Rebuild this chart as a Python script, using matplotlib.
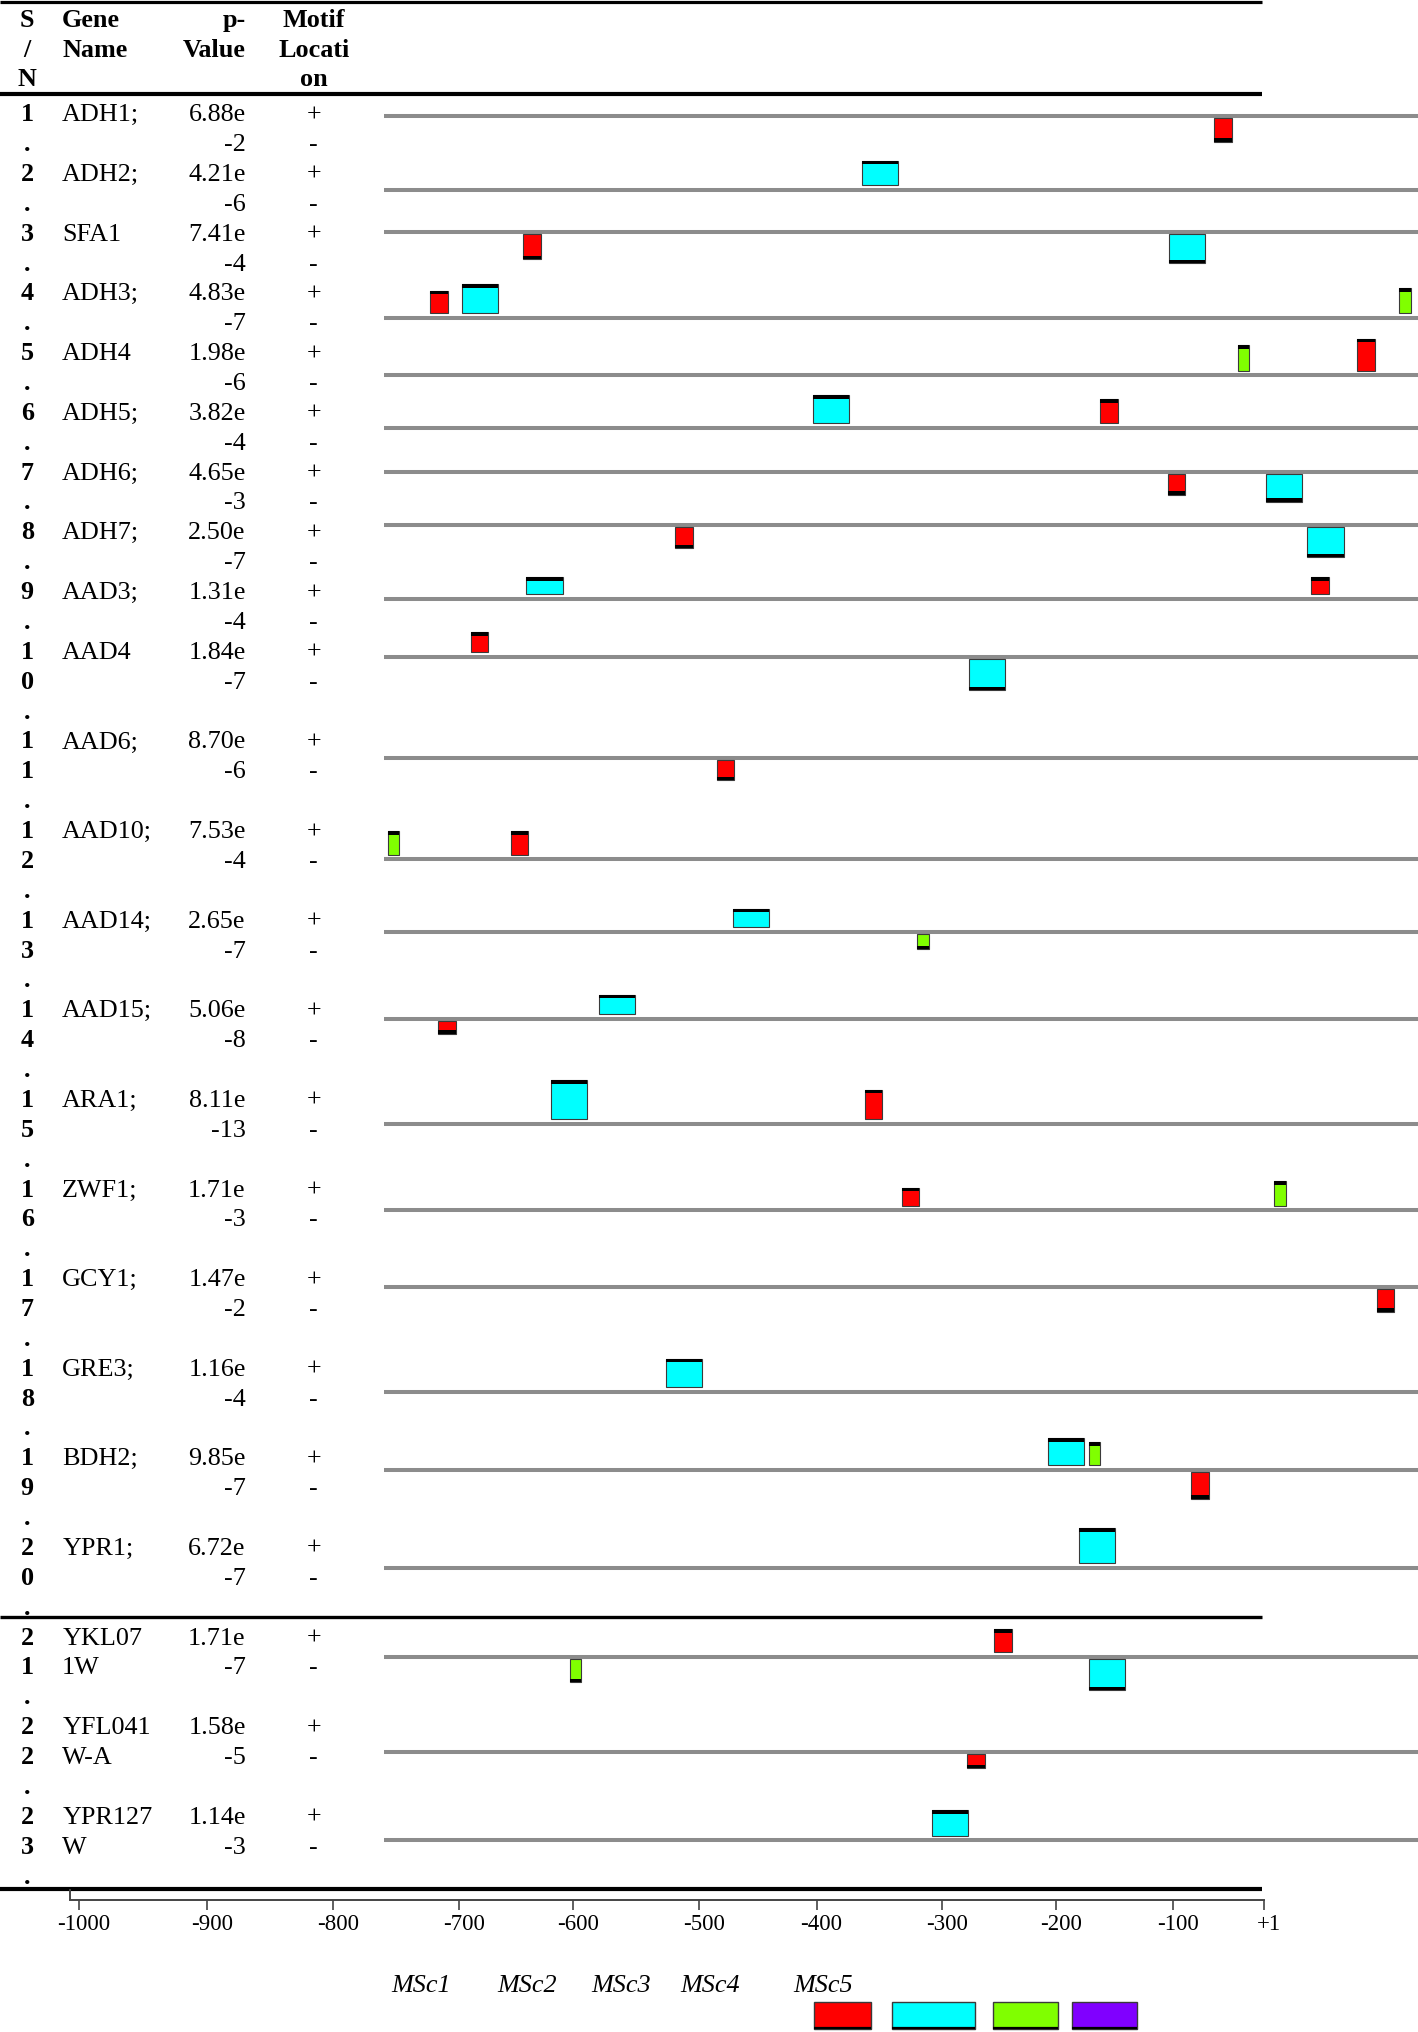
import matplotlib

matplotlib.use("Agg")
import matplotlib.pyplot as plt
from matplotlib.transforms import ScaledTranslation

plt.rcParams["font.family"] = ["Liberation Serif", "DejaVu Serif"]

# layout grid: the reference drawn at 1094 x 1568 units, y pointing down
W, H = 1094, 1568

# ---- table data ---------------------------------------------------------
GENE_NAMES = [
    "ADH1;", "ADH2;", "SFA1", "ADH3;", "ADH4", "ADH5;", "ADH6;", "ADH7;",
    "AAD3;", "AAD4", "AAD6;", "AAD10;", "AAD14;", "AAD15;", "ARA1;", "ZWF1;",
    "GCY1;", "GRE3;", "BDH2;", "YPR1;", "YKL07\n1W", "YFL041\nW-A", "YPR127\nW",
]
P_MANT = [6.88, 4.21, 7.41, 4.83, 1.98, 3.82, 4.65, 2.50, 1.31, 1.84, 8.70, 7.53,
          2.65, 5.06, 8.11, 1.71, 1.47, 1.16, 9.85, 6.72, 1.71, 1.58, 1.14]
P_EXP = [-2, -6, -4, -7, -6, -4, -3, -7, -4, -7, -6, -4,
         -7, -8, -13, -3, -2, -4, -7, -7, -7, -5, -3]

# ---- motif hits (position in bp upstream of +1, strand, score height) ----
MOTIF_COLORS = ["#FF0000", "#00FFFF", "#80FF00", "#8000FF"]
MOTIF_LEN = [17, 35, 11]  # bp, red / cyan / green
HIT_GENE = [0, 1, 2, 2, 3, 3, 3, 4, 4, 5, 5, 6, 6, 7, 7, 8, 8, 9, 9, 10,
            11, 11, 12, 12, 13, 13, 14, 14, 15, 15, 16, 17, 18, 18, 18, 19,
            20, 20, 20, 21, 22]
HIT_MOTIF = [0, 1, 0, 1, 0, 1, 2, 2, 0, 1, 0, 0, 1, 0, 1, 1, 0, 0, 1, 0,
             2, 0, 1, 2, 1, 0, 1, 0, 0, 2, 0, 1, 1, 2, 0, 1,
             0, 2, 1, 0, 1]
HIT_START = [-197, -538, -865, -241, -955, -924, -18, -174, -59, -585, -307,
             -242, -147, -718, -107, -862, -103, -916, -434, -678,
             -996, -877, -662, -484, -792, -947, -838, -535, -499, -139, -40,
             -727, -358, -318, -219, -328, -410, -820, -318, -436, -470]
HIT_STRAND = [-1, 1, -1, -1, 1, 1, 1, 1, 1, 1, 1, -1, -1, -1, -1, 1, 1, 1, -1, -1,
              1, 1, 1, -1, 1, -1, 1, 1, 1, 1, -1, 1, 1, 1, -1, 1,
              1, -1, -1, -1, 1]
HIT_HEIGHT = [18.5, 19, 19.5, 22.5, 17, 22, 19, 19.5, 24.5, 21.5, 18.5, 16, 21.5,
              16.5, 23.5, 13, 13, 15.5, 24, 16, 18, 18, 14, 12, 15, 10, 30, 22.5,
              14, 19, 17.5, 22, 20.5, 17.5, 21, 27, 17.5, 18, 24, 11, 19.5]

RULER_LABELS = ["-1000", "-900", "-800", "-700", "-600", "-500", "-400",
                "-300", "-200", "-100", "+1"]
LEGEND_LABELS = ["MSc1", "MSc2", "MSc3", "MSc4", "MSc5"]

# ---- layout ---------------------------------------------------------------
TRACK_Y = [89.3, 146.6, 179, 245, 289.6, 330, 364, 405, 462, 507, 584.6, 663,
           718.8, 786, 867, 934, 993, 1074, 1134, 1209.8, 1278.4, 1351.7, 1420]
TRACK_X0 = 296
RULER_TICK_X = [61, 160, 257, 354, 442, 539, 630, 727, 815, 905, 975]
LEGEND_TEXT_X = [325, 407, 479, 548, 635]
LEGEND_BOX = [(628, 44), (688, 64), (766, 50), (827, 50)]
HEAD_BASE = [20.8, 43.6, 66.4]
ROW0, LINE = 93.5, 23.05
FS = 18.8
RULE_R = 973.5

fig = plt.figure(figsize=(14.18, 20.32), dpi=100)
ax = fig.add_axes([0, 0, 1, 1])
ax.set_xlim(0, W)
ax.set_ylim(H, 0)
ax.axis("off")


def put(x, y, s, ha="left", bold=False, **kw):
    ax.text(x, y, s, ha=ha, va="baseline", fontsize=FS,
            fontweight="bold" if bold else "normal", color="black", **kw)


# header
for k, s in enumerate(["S", "/", "N"]):
    put(21, HEAD_BASE[k], s, ha="center", bold=True)
for k, s in enumerate(["Gene", "Name"]):
    put(48, HEAD_BASE[k], s, bold=True)
for k, s in enumerate(["p-", "Value"]):
    put(189.5, HEAD_BASE[k], s, ha="right", bold=True)
for k, s in enumerate(["Motif", "Locati", "on"]):
    put(242, HEAD_BASE[k], s, ha="center", bold=True)

# rows
line = 0
for g, name in enumerate(GENE_NAMES):
    sn = list(str(g + 1)) + ["."]
    for k, s in enumerate(sn):
        put(21, ROW0 + (line + k) * LINE, s, ha="center", bold=True)
    for k, s in enumerate(name.split("\n")):
        put(48, ROW0 + (line + k) * LINE, s)
    put(189.5, ROW0 + line * LINE, f"{P_MANT[g]:.2f}e", ha="right")
    put(189.5, ROW0 + (line + 1) * LINE, f"{P_EXP[g]}", ha="right")
    put(242, ROW0 + line * LINE, "+", ha="center")
    put(242, ROW0 + (line + 1) * LINE, "-", ha="center")
    line += len(sn)

# black rules
ax.hlines([1.5, 72.5, 1248, 1457.5], 0, RULE_R, color="black",
          lw=[2.3, 3.0, 2.4, 3.0])
ax.vlines(54, 1457.5, 1466.5, color="#444444", lw=1.4)

# ---- motif tracks ---------------------------------------------------------
tax = fig.add_axes([TRACK_X0 / W, 0, 1 - TRACK_X0 / W, 1])
tax.set_xlim(-1000, 0)
tax.set_ylim(H, 0)
tax.axis("off")
tax.hlines(TRACK_Y, -1000, 0, color="#8c8c8c", lw=2.9, zorder=1)

GAP_UP, GAP_DN, BAND = 3.5, 1.6, 2.6
for g, m, x, s, h in zip(HIT_GENE, HIT_MOTIF, HIT_START, HIT_STRAND, HIT_HEIGHT):
    y0 = TRACK_Y[g]
    if s > 0:
        near, far = y0 - GAP_UP, y0 - GAP_UP - h
        band0 = far
    else:
        near, far = y0 + GAP_DN, y0 + GAP_DN + h
        band0 = far - BAND
    tax.bar(x, far - near, width=MOTIF_LEN[m], bottom=near, align="edge",
            color=MOTIF_COLORS[m], edgecolor="#3a3a3a", lw=0.8, zorder=2)
    tax.bar(x, BAND, width=MOTIF_LEN[m], bottom=band0, align="edge",
            color="black", lw=0, zorder=3)

# ---- position ruler -------------------------------------------------------
rax = fig.add_axes([0, 1 - 1466.5 / H, 1, 0.0001])
rax.set_xlim(0, W)
rax.patch.set_visible(False)
for side in ("left", "right", "top"):
    rax.spines[side].set_visible(False)
rax.spines["bottom"].set_bounds(54, 975)
rax.spines["bottom"].set_color("#444444")
rax.spines["bottom"].set_linewidth(1.4)
rax.set_yticks([])
rax.set_xticks(RULER_TICK_X)
rax.set_xticklabels(RULER_LABELS)
rax.tick_params(axis="x", direction="out", length=7.5, width=1.2,
                color="#444444", labelsize=16.5, pad=2.5)
for lbl in rax.get_xticklabels():
    lbl.set_transform(lbl.get_transform() + ScaledTranslation(0.05, 0, fig.dpi_scale_trans))

# ---- legend ---------------------------------------------------------------
for x, s in zip(LEGEND_TEXT_X, LEGEND_LABELS):
    ax.text(x, 1537.5, s, ha="center", va="baseline", fontsize=FS,
            fontstyle="italic")
for (x, w), c in zip(LEGEND_BOX, MOTIF_COLORS):
    ax.add_patch(plt.Rectangle((x, 1544.5), w, 21.5, facecolor=c,
                               edgecolor="#3a3a3a", lw=1.0))
    ax.hlines(1565, x, x + w, color="black", lw=1.6)

fig.savefig("out.png", dpi=100)
